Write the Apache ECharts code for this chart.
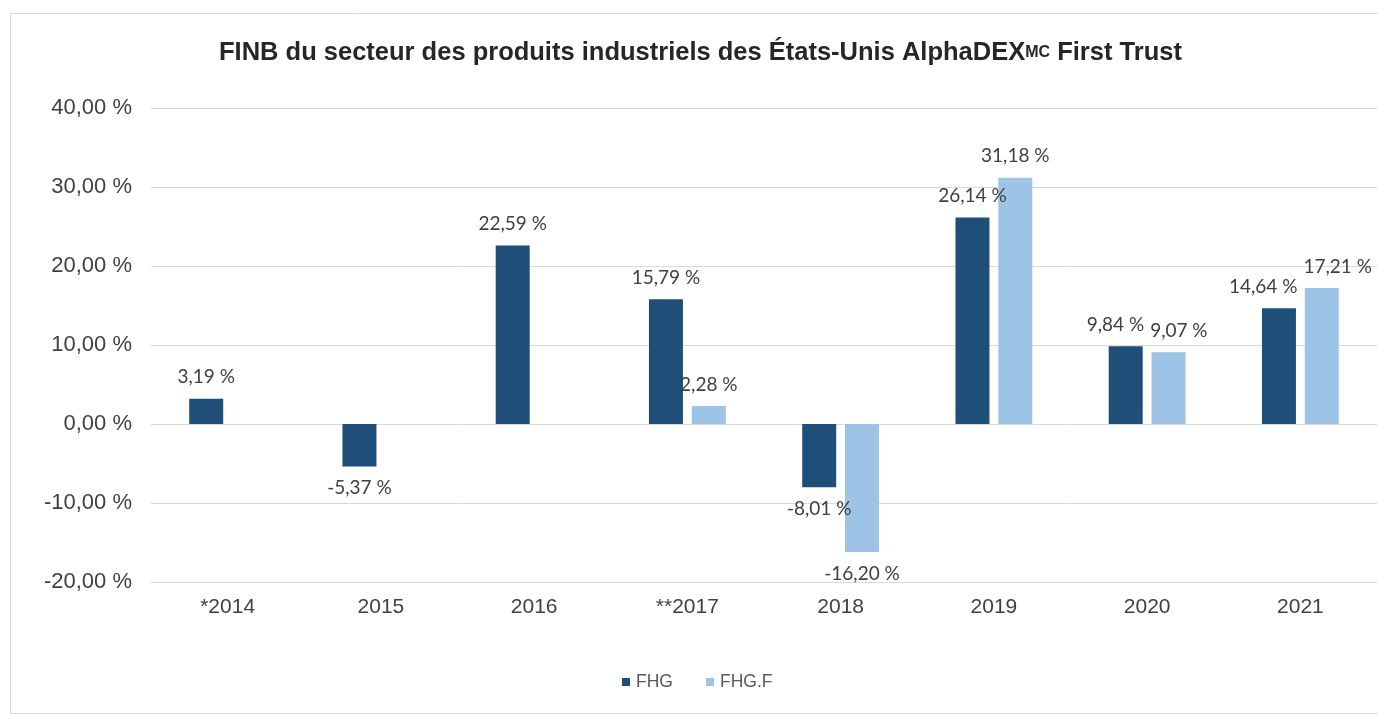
<!DOCTYPE html>
<html>
<head>
<meta charset="utf-8">
<script src="https://cdn.jsdelivr.net/npm/echarts@6/dist/echarts.min.js"></script>
<style>
html,body{margin:0;padding:0;background:#ffffff;}
#chart{width:1378px;height:715px;}
</style>
</head>
<body>
<div id="chart"></div>
<script>
const categories = ['*2014', '2015', '2016', '**2017', '2018', '2019', '2020', '2021'];
const fhg = [3.19, -5.37, 22.59, 15.79, -8.01, 26.14, 9.84, 14.64];
const fhgF = [null, null, null, 2.28, -16.20, 31.18, 9.07, 17.21];
const seriesNames = ['FHG', 'FHG.F'];
const yTicks = { min: -20, max: 40, interval: 10 };

function fmt(v, d) {
  return v.toFixed(d).replace('.', ',') + ' %';
}
function toItems(arr) {
  return arr.map(v => v === null ? null : {
    value: v,
    label: { position: v < 0 ? 'bottom' : 'top' }
  });
}

const gridTop = 108, gridBottomY = 582;
const pxPerUnit = (gridBottomY - gridTop) / (yTicks.max - yTicks.min);
const allSeries = [fhg, fhgF];

// push apart labels of neighbouring bars when they would collide
function separateLabels(p) {
  const s = p.seriesIndex, i = p.dataIndex;
  const mine = allSeries[s][i], other = allSeries[1 - s][i];
  if (mine === null || other === null || (mine < 0) !== (other < 0)) return {};
  const h = p.labelRect.height;
  if (Math.abs(mine - other) * pxPerUnit >= h + 6) return {};
  const barStep = p.rect.width * 1.26;
  const overlap = p.labelRect.width - barStep + 6;
  if (overlap <= 0) return {};
  return { dx: (s === 0 ? -1 : 1) * overlap / 2 };
}

const chart = echarts.init(document.getElementById('chart'));
const labelStyle = {
  show: true,
  fontFamily: 'Lato, "Open Sans", sans-serif',
  fontSize: 19,
  color: '#404040',
  distance: 12,
  formatter: p => fmt(p.value, 2)
};
const arial = '"Liberation Sans", Arial, sans-serif';
chart.setOption({
  backgroundColor: '#ffffff',
  animation: false,
  graphic: [{
    type: 'rect',
    shape: { x: 10.5, y: 13.5, width: 1380, height: 700 },
    style: { fill: 'none', stroke: '#d9d9d9', lineWidth: 1 },
    silent: true, z: -1
  }],
  title: {
    text: '{t|FINB du secteur des produits industriels des États-Unis AlphaDEX}{s|MC}{t| First Trust}',
    left: 214,
    top: 32,
    textStyle: {
      rich: {
        t: { fontFamily: arial, fontWeight: 'bold', fontSize: 25.5, color: '#262626', height: 32 },
        s: { fontFamily: arial, fontWeight: 'bold', fontSize: 16, color: '#262626', verticalAlign: 'top', height: 32, lineHeight: 20 }
      }
    }
  },
  legend: {
    data: seriesNames,
    top: 668,
    left: 617,
    icon: 'rect',
    itemWidth: 8,
    itemHeight: 8,
    itemGap: 33,
    textStyle: { fontFamily: arial, fontSize: 17.5, color: '#595959', padding: [0, 0, 0, 1] }
  },
  grid: { left: 151, right: 1, top: gridTop, bottom: 715 - gridBottomY, containLabel: false },
  xAxis: {
    type: 'category',
    data: categories,
    axisLine: { show: false },
    axisTick: { show: false },
    axisLabel: { fontFamily: arial, fontSize: 21, color: '#404040', margin: 15 }
  },
  yAxis: {
    type: 'value',
    min: yTicks.min,
    max: yTicks.max,
    interval: yTicks.interval,
    axisLine: { show: false },
    axisTick: { show: false },
    splitLine: { lineStyle: { color: '#d9d9d9', width: 1 } },
    axisLabel: {
      fontFamily: arial,
      fontSize: 22,
      color: '#404040',
      margin: 19,
      formatter: v => fmt(v, 2)
    }
  },
  series: [
    {
      name: seriesNames[0],
      type: 'bar',
      data: toItems(fhg),
      barWidth: 34,
      barGap: '26%',
      itemStyle: { color: '#1f4e79' },
      label: labelStyle,
      labelLayout: separateLabels
    },
    {
      name: seriesNames[1],
      type: 'bar',
      data: toItems(fhgF),
      barWidth: 34,
      itemStyle: { color: '#9dc3e6' },
      label: labelStyle,
      labelLayout: separateLabels
    }
  ]
});
</script>
</body>
</html>
